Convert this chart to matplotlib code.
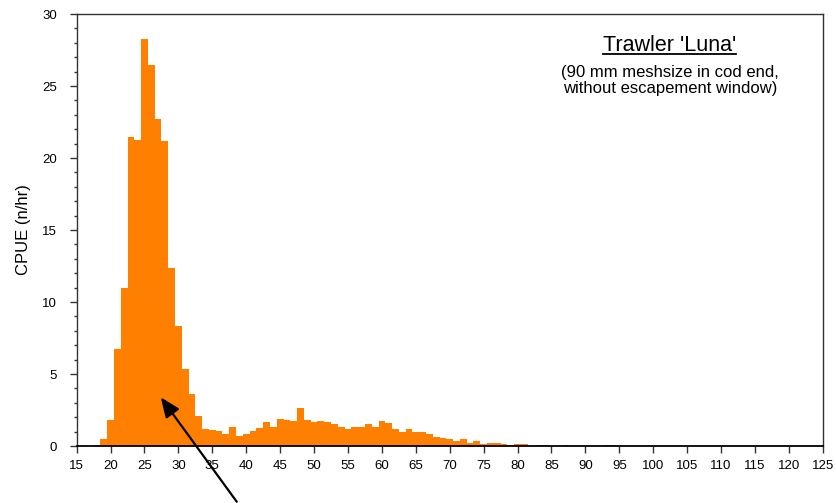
import matplotlib
matplotlib.use("Agg")
import matplotlib.pyplot as plt
from matplotlib.lines import Line2D

plt.rcParams['font.family'] = ['Liberation Sans', 'DejaVu Sans']

# length classes (cm) and catch per unit effort
lengths = list(range(17, 101))
cpue = [0.0, 0.09, 0.49, 1.8, 6.76, 11.0, 21.48, 21.25, 28.26, 26.46,
        22.73, 21.18, 12.38, 8.33, 5.35, 3.61, 2.08, 1.18, 1.11, 1.04,
        0.83, 1.32, 0.69, 0.83, 1.04, 1.25, 1.67, 1.32, 1.88, 1.81,
        1.74, 2.64, 1.81, 1.67, 1.74, 1.67, 1.53, 1.32, 1.18, 1.32,
        1.32, 1.53, 1.32, 1.74, 1.60, 1.18, 0.97, 1.18, 0.97, 0.97,
        0.83, 0.63, 0.56, 0.49, 0.35, 0.49, 0.21, 0.35, 0.14, 0.21,
        0.21, 0.14, 0.07, 0.14, 0.14, 0.02, 0.07, 0.07, 0.0, 0.02,
        0.07, 0.02, 0.02, 0.02, 0.0, 0.0, 0.07, 0.07, 0.0, 0.0,
        0.02, 0.0, 0.0, 0.02]

x_ticks = list(range(15, 126, 5))
y_ticks = list(range(0, 31, 5))

title = "Trawler 'Luna'"
subtitle = "(90 mm meshsize in cod end,\nwithout escapement window)"

fig = plt.figure(figsize=(8.37, 5.03), dpi=100)
ax = fig.add_axes([0.0916, 0.1133, 0.8914, 0.8588])

ax.bar(lengths, cpue, width=1.0, color='#FF8000', linewidth=0)

ax.set_xlim(15, 125)
ax.set_ylim(0, 30)
ax.set_xticks(x_ticks)
ax.set_yticks(y_ticks)
ax.set_yticks(range(0, 31), minor=True)
ax.tick_params(axis='both', which='major', labelsize=9.5, length=5,
               width=1, color='#333333', direction='out')
ax.tick_params(axis='y', which='major', pad=9)
ax.tick_params(axis='y', which='minor', length=2.5, width=1, color='#333333')
ax.tick_params(axis='x', which='major', pad=5)
for s in ax.spines.values():
    s.set_color('#333333')
    s.set_linewidth(1)
ax.spines['bottom'].set_color('black')
ax.spines['bottom'].set_linewidth(1.3)

ax.set_ylabel('CPUE (n/hr)', fontsize=12, labelpad=8)

t = ax.text(0.795, 0.928, title, transform=ax.transAxes, fontsize=15.5,
            ha='center', va='center')
ax.text(0.795, 0.847, subtitle, transform=ax.transAxes, fontsize=12,
        ha='center', va='center', linespacing=1.1)

ax.annotate('', xy=(27.4, 3.38), xytext=(38.6, -3.87),
            xycoords='data', textcoords='data', annotation_clip=False,
            arrowprops=dict(arrowstyle='-|>,head_length=0.6,head_width=0.25',
                            color='black', lw=1.6, mutation_scale=20,
                            shrinkA=0, shrinkB=0))

# underline the title
fig.canvas.draw()
bb = t.get_window_extent().transformed(fig.transFigure.inverted())
fig.add_artist(Line2D([bb.x0, bb.x1], [bb.y0 + 0.003, bb.y0 + 0.003],
                      color='black', lw=1.3, transform=fig.transFigure))

fig.savefig('out.png', dpi=100)
